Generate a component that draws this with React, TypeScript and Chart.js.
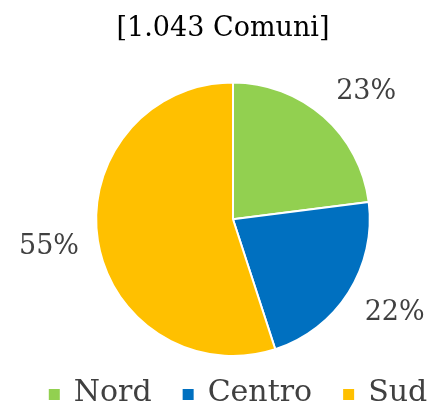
import React, { useEffect, useRef } from "react";
import { Chart, registerables } from "chart.js";

Chart.register(...registerables);

const TITLE = "[1.043 Comuni]";
const categories = ["Nord", "Centro", "Sud"];
const values = [23, 22, 55];
const colors = ["#92D050", "#0070C0", "#FFC000"];
const FONT = "'DejaVu Serif', 'Liberation Serif', serif";
const LABEL_SIZE = 27;
const LEGEND_SIZE = 30;

const clamp = (v: number) => Math.max(-1, Math.min(1, v));

const customDraw = {
  id: "customDraw",
  afterLayout(chart: any) {
    if (chart.titleBlock) {
      chart.titleBlock.left -= 10;
      chart.titleBlock.right -= 10;
    }
  },
  afterDatasetsDraw(chart: any) {
    const ctx = chart.ctx;
    const meta = chart.getDatasetMeta(0);
    ctx.save();
    ctx.font = `${LABEL_SIZE}px ${FONT}`;
    ctx.fillStyle = "#404040";
    ctx.textAlign = "center";
    ctx.textBaseline = "middle";
    meta.data.forEach((arc: any, i: number) => {
      const p = arc.getProps(["x", "y", "startAngle", "endAngle", "outerRadius"], true);
      const mid = (p.startAngle + p.endAngle) / 2;
      const ux = Math.cos(mid);
      const uy = Math.sin(mid);
      const d = p.outerRadius * 1.14;
      const text = values[i] + "%";
      const w = ctx.measureText(text).width / 2;
      const h = LABEL_SIZE * 0.39;
      const x = p.x + ux * d + w * clamp(ux * 2);
      const y = p.y + uy * d + h * clamp(uy * 2);
      ctx.fillText(text, x, y);
    });
    ctx.restore();
  },
  afterDraw(chart: any) {
    const ctx = chart.ctx;
    ctx.save();
    ctx.font = `${LEGEND_SIZE}px ${FONT}`;
    ctx.textBaseline = "middle";
    ctx.textAlign = "left";
    const box = 11;
    const gapBoxText = 14;
    const gapItems = 31;
    const widths = categories.map((c) => box + gapBoxText + ctx.measureText(c).width);
    const total = widths.reduce((a, b) => a + b, 0) + gapItems * (categories.length - 1);
    let x = 238 - total / 2;
    const textY = chart.chartArea.bottom + 36;
    categories.forEach((c, i) => {
      ctx.fillStyle = colors[i];
      ctx.fillRect(x, textY - 4, box, box);
      ctx.fillStyle = "#404040";
      ctx.fillText(c, x + box + gapBoxText, textY);
      x += widths[i] + gapItems;
    });
    ctx.restore();
  },
};

export default function App() {
  const ref = useRef<HTMLCanvasElement>(null);
  useEffect(() => {
    document.body.style.margin = "0";
    const chart = new Chart(ref.current!, {
      type: "pie",
      data: {
        labels: categories,
        datasets: [
          {
            data: values,
            backgroundColor: colors,
            borderColor: "#ffffff",
            borderWidth: 2,
          },
        ],
      },
      options: {
        animation: false,
        responsive: false,
        layout: { padding: { left: 35, right: 0, top: 0, bottom: 49 } },
        plugins: {
          title: {
            display: true,
            text: TITLE,
            color: "#000000",
            font: { family: FONT, size: 27, weight: "normal" },
            padding: { top: 13, bottom: 36 },
          },
          legend: { display: false },
          tooltip: { enabled: false },
        },
      },
      plugins: [customDraw],
    });
    return () => chart.destroy();
  }, []);
  return (
    <div style={{ position: "absolute", left: 0, top: 0, width: 431, height: 406 }}>
      <canvas ref={ref} width={431} height={406} />
    </div>
  );
}
